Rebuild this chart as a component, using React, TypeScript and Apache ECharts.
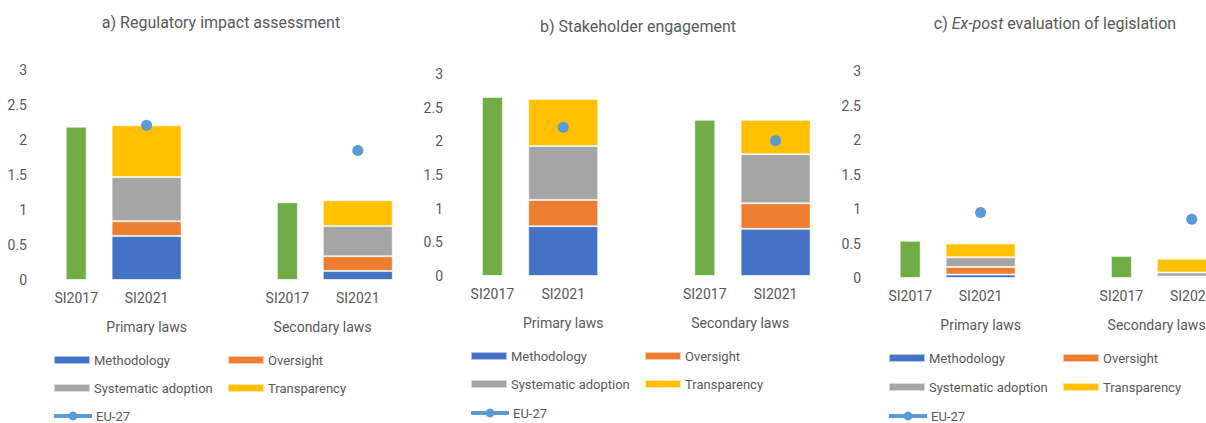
import React, { useEffect, useRef } from "react";
import * as echarts from "echarts";

const categories = ["SI2017", "SI2021", "", "SI2017", "SI2021"];
const groupLabels = ["", "", "", "Primary laws", "", "", "", "", "Secondary laws", "", ""];
const yTicks = [0, 0.5, 1, 1.5, 2, 2.5, 3];

// Panel a) Regulatory impact assessment
const aTotal2017 = [2.19, null, null, 1.11, null];
const aMethodology = [null, 0.63, null, null, 0.13];
const aOversight = [null, 0.21, null, null, 0.21];
const aSystematic = [null, 0.63, null, null, 0.43];
const aTransparency = [null, 0.74, null, null, 0.37];
const aEU27 = [null, 2.21, null, null, 1.85];

// Panel b) Stakeholder engagement
const bTotal2017 = [2.66, null, null, 2.32, null];
const bMethodology = [null, 0.74, null, null, 0.7];
const bOversight = [null, 0.39, null, null, 0.38];
const bSystematic = [null, 0.8, null, null, 0.73];
const bTransparency = [null, 0.7, null, null, 0.51];
const bEU27 = [null, 2.21, null, null, 2.01];

// Panel c) Ex-post evaluation of legislation
const cTotal2017 = [0.54, null, null, 0.32, null];
const cMethodology = [null, 0.05, null, null, 0.02];
const cOversight = [null, 0.11, null, null, 0.0];
const cSystematic = [null, 0.14, null, null, 0.06];
const cTransparency = [null, 0.2, null, null, 0.2];
const cEU27 = [null, 0.95, null, null, 0.85];

const FONT = "Roboto";
const TEXT = "#595959";
const COLORS = {
  Methodology: "#4472C4",
  Oversight: "#ED7D31",
  "Systematic adoption": "#A5A5A5",
  Transparency: "#FFC000",
  green: "#70AD47",
  eu: "#5B9BD5",
};

const panels = [
  {
    data: [aTotal2017, aMethodology, aOversight, aSystematic, aTransparency, aEU27],
    grid: { left: 41, top: 70, width: 352, height: 210 },
    title: "{n|a) Regulatory impact assessment}",
    titleX: 221, titleY: 14,
    legend: { c1: 53, c2: 227, rows: [360, 388, 416] },
  },
  {
    data: [bTotal2017, bMethodology, bOversight, bSystematic, bTransparency, bEU27],
    grid: { left: 457, top: 74, width: 354, height: 202 },
    title: "{n|b) Stakeholder engagement}",
    titleX: 638, titleY: 18,
    legend: { c1: 470, c2: 644, rows: [356, 384, 413] },
  },
  {
    data: [cTotal2017, cMethodology, cOversight, cSystematic, cTransparency, cEU27],
    grid: { left: 875, top: 71, width: 352, height: 207 },
    title: "{n|c) }{i|Ex-post}{n| evaluation of legislation}",
    titleX: 1055, titleY: 15,
    legend: { c1: 888, c2: 1062, rows: [358, 387, 416] },
  },
];

export default function App() {
  const ref = useRef<HTMLDivElement>(null);
  useEffect(() => {
    if (!ref.current) return;
    const chart = echarts.init(ref.current, null, { renderer: "svg" });
    const grid: any[] = [];
    const xAxis: any[] = [];
    const yAxis: any[] = [];
    const series: any[] = [];
    const legend: any[] = [];
    const title: any[] = [];
    panels.forEach((p, i) => {
      grid.push({ ...p.grid, containLabel: false });
      const base = xAxis.length;
      xAxis.push({
        type: "category",
        gridIndex: i,
        data: categories,
        axisLine: { show: false },
        axisTick: { show: false },
        axisLabel: { interval: 0, color: TEXT, fontFamily: FONT, fontSize: 14, margin: 11 },
      });
      xAxis.push({
        type: "category",
        gridIndex: i,
        data: categories,
        show: false,
      });
      xAxis.push({
        type: "category",
        gridIndex: i,
        data: groupLabels,
        boundaryGap: false,
        position: "bottom",
        offset: 40,
        axisLine: { show: false },
        axisTick: { show: false },
        axisLabel: { interval: 0, color: TEXT, fontFamily: FONT, fontSize: 14, margin: 0 },
      });
      yAxis.push({
        type: "value",
        gridIndex: i,
        min: yTicks[0],
        max: yTicks[yTicks.length - 1],
        interval: 0.5,
        splitLine: { show: false },
        axisLine: { show: false },
        axisTick: { show: false },
        axisLabel: { color: TEXT, fontFamily: FONT, fontSize: 14, margin: 14 },
      });
      const [tot, meth, over, sys, trans, eu] = p.data;
      series.push({
        name: "SI2017",
        type: "bar",
        xAxisIndex: base + 1,
        yAxisIndex: i,
        barWidth: 21,
        data: tot,
        itemStyle: { color: COLORS.green, borderColor: "rgba(255,255,255,0.6)", borderWidth: 1 },
      });
      const stackNames = ["Methodology", "Oversight", "Systematic adoption", "Transparency"];
      [meth, over, sys, trans].forEach((d, k) => {
        series.push({
          name: stackNames[k],
          type: "bar",
          stack: "s" + i,
          xAxisIndex: base,
          yAxisIndex: i,
          barWidth: 70,
          data: d,
          itemStyle: {
            color: (COLORS as any)[stackNames[k]],
            borderColor: "rgba(255,255,255,0.6)",
            borderWidth: 1,
          },
        });
      });
      series.push({
        name: "EU-27",
        type: "line",
        xAxisIndex: base,
        yAxisIndex: i,
        data: eu,
        symbol: "circle",
        symbolSize: 11,
        showSymbol: true,
        z: 5,
        lineStyle: { color: COLORS.eu, width: 3 },
        itemStyle: { color: COLORS.eu },
      });
      const L = p.legend;
      const items: [string, number, number][] = [
        ["Methodology", L.c1, L.rows[0]],
        ["Oversight", L.c2, L.rows[0]],
        ["Systematic adoption", L.c1, L.rows[1]],
        ["Transparency", L.c2, L.rows[1]],
        ["EU-27", L.c1 - 1, L.rows[2]],
      ];
      items.forEach(([name, x, y]) => {
        const isLine = name === "EU-27";
        legend.push({
          data: [name],
          left: x,
          top: y - 8,
          padding: 0,
          itemWidth: isLine ? 38 : 36,
          itemHeight: isLine ? 11 : 8,
          icon: isLine ? undefined : "rect",
          selectedMode: false,
          lineStyle: isLine ? { width: 4, color: COLORS.eu } : undefined,
          textStyle: { color: TEXT, fontFamily: FONT, fontSize: 13, lineHeight: 16, padding: [0, 0, 0, -1] },
        });
      });
      title.push({
        text: p.title,
        left: p.titleX,
        top: p.titleY,
        textAlign: "center",
        padding: 0,
        textStyle: {
          rich: {
            n: { color: TEXT, fontFamily: FONT, fontSize: 16, fontWeight: "normal" },
            i: { color: TEXT, fontFamily: FONT, fontSize: 16, fontStyle: "italic", fontWeight: "normal" },
          },
        },
      });
    });
    chart.setOption({
      animation: false,
      backgroundColor: "#ffffff",
      title,
      grid,
      xAxis,
      yAxis,
      series,
      legend,
    });
    return () => chart.dispose();
  }, []);
  return (
    <div
      style={{ position: "absolute", left: 0, top: 0, width: 1206, height: 423, overflow: "hidden" }}
    >
      <div ref={ref} style={{ width: 1240, height: 423 }} />
    </div>
  );
}
